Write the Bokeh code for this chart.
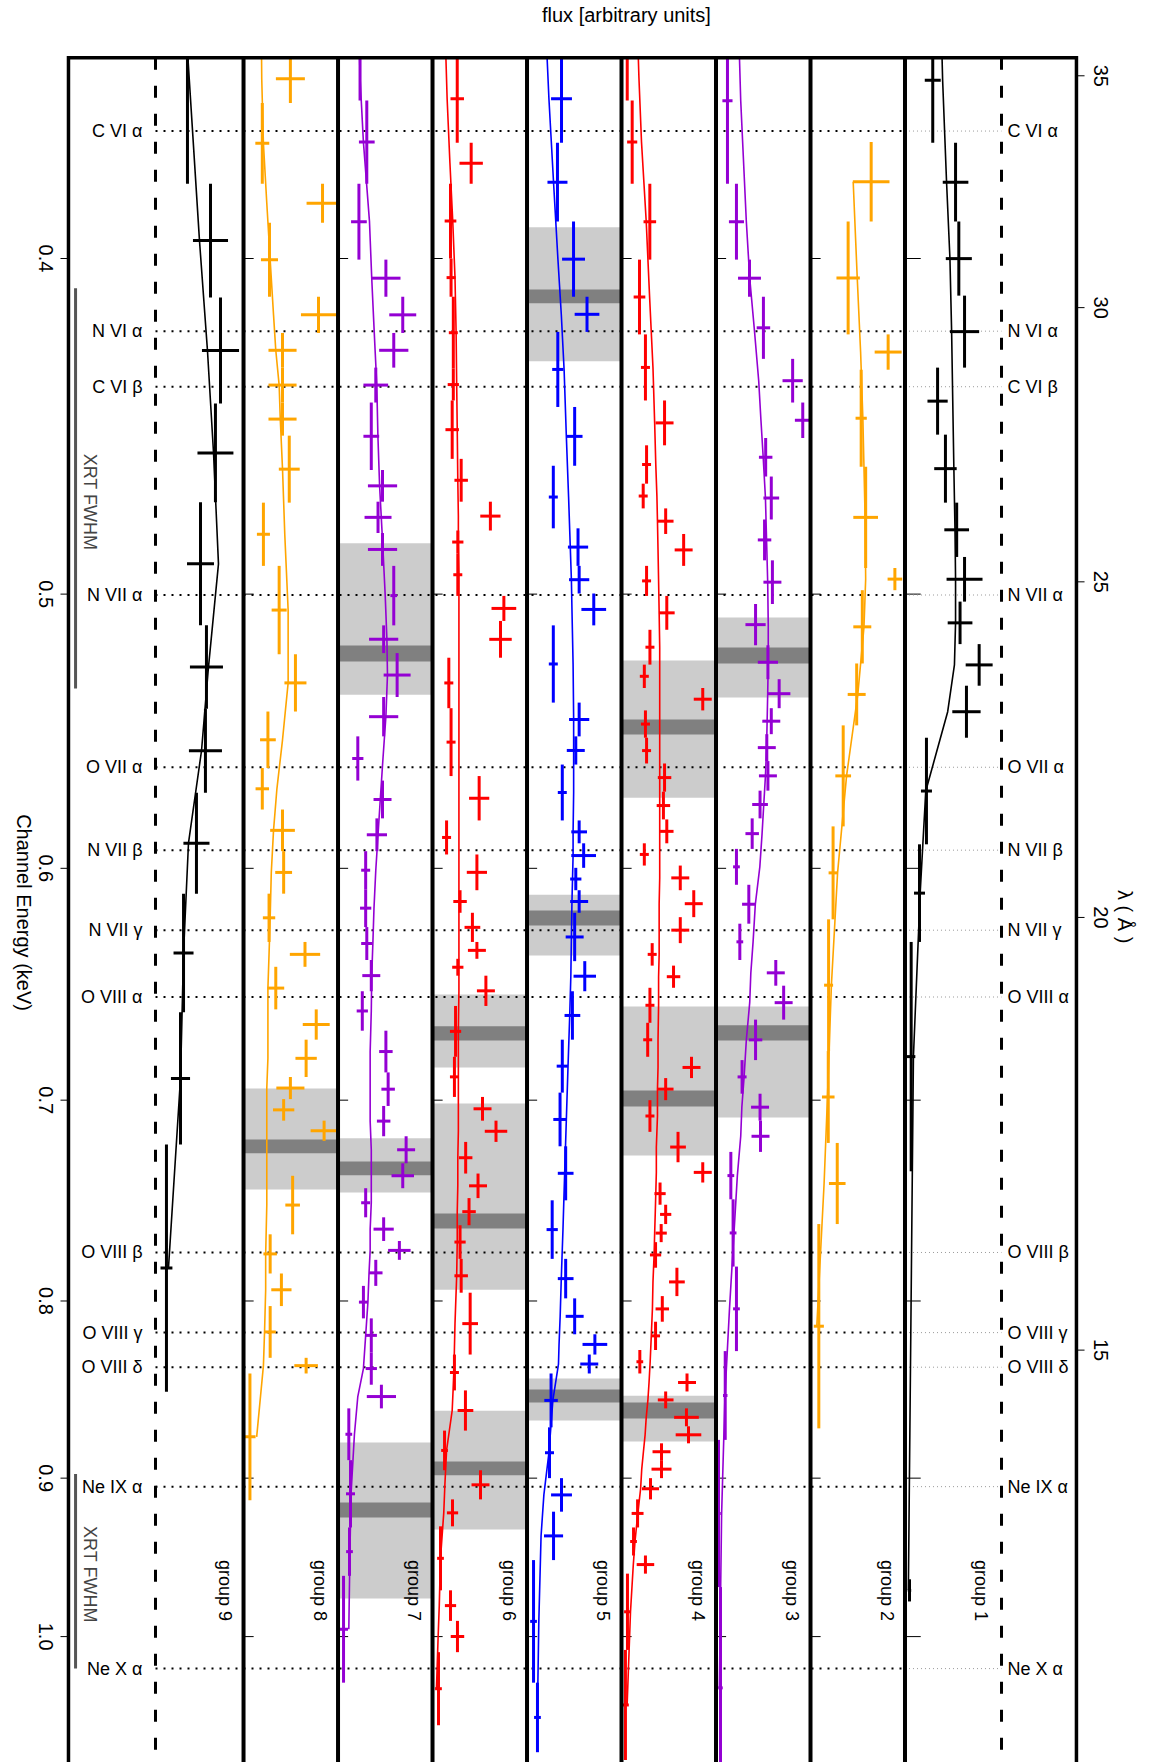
import math
import numpy as np
from bokeh.plotting import figure
from bokeh.models import Range1d
from bokeh.core.properties import value
from bokeh.embed import file_html
from bokeh.resources import INLINE

FONT = "Liberation Sans"
HC = 12.3984  # keV * Angstrom
nan = float("nan")  # marks an energy range without a plotted bin

# ---------------- data ----------------
energy_ticks = [0.4, 0.5, 0.6, 0.7, 0.8, 0.9, 1.0]
energy_tick_labels = ["0.4", "0.5", "0.6", "0.7", "0.8", "0.9", "1.0"]
lambda_ticks = [15, 20, 25, 30, 35]

line_names = ["C VI α", "N VI α", "C VI β", "N VII α", "O VII α", "N VII β", "N VII γ",
              "O VIII α", "O VIII β", "O VIII γ", "O VIII δ", "Ne IX α", "Ne X α"]
line_energy = [0.3675, 0.4198, 0.4356, 0.5003, 0.5610, 0.5928, 0.6252,
               0.6536, 0.7746, 0.8170, 0.8360, 0.9051, 1.0215]

group_ids = [9, 8, 7, 6, 5, 4, 3, 2, 1]
group_colors = ["black", "orange", "#9400D3", "red", "blue", "red", "#9400D3", "orange", "black"]

# flux in arbitrary units, each panel spans 0..84.1
g9_edges = [0.300, 0.3806, 0.4105, 0.4405, 0.4704, 0.5105, 0.5396, 0.5706, 0.6102, 0.6603, 0.7209, 0.8497]
g9_flux = [34.2, 54.7, 63.6, 59.1, 45.8, 51.1, 50.2, 42.2, 30.7, 28.0, 15.5]
g9_err = [0, 15.6, 16.5, 16.0, 12.0, 14.7, 14.7, 11.6, 8.9, 8.5, 5.3]
g9_model = [31.6, 44.9, 52.0, 57.4, 61.8, 52.9, 46.7, 35.1, 30.7, 28.0, 17.3]

g8_edges = [0.3350, 0.3493, 0.3607, 0.3806, 0.3906, 0.4103, 0.4203, 0.4301, 0.4402, 0.4500, 0.4705,
            0.4907, 0.5204, 0.5406, 0.5613, 0.5770, 0.5932, 0.6102, 0.6301, 0.6406, 0.6590,
            0.6724, 0.6893, 0.6995, 0.7096, 0.7192, 0.7361, 0.7653, 0.7855, 0.8027, 0.8308,
            0.8395, 0.9133]
g8_flux = [15.8, 41.7, 16.7, 70.3, 23.1, 66.7, 34.7, 34.7, 34.7, 40.7, 17.7, 31.7, 46.2, 21.7, 16.7,
           34.7, 35.7, 22.7, 54.7, 28.7, 64.7, 55.7, 41.7, 35.7, 71.7, nan, 43.7, 23.7, 33.7, 23.7,
           55.7, 5.7]
g8_err = [0, 12.9, 6.2, 14.2, 7.6, 15.6, 12.5, 12.5, 12.5, 9.3, 5.8, 6.7, 9.8, 7, 6, 11, 7.5, 5.5,
          13.5, 7.5, 12, 9.5, 12.5, 9.5, 12, nan, 6.5, 6, 9, 5, 10.5, 5]
g8_model = [15.8, 16.2, 17.7, 20.7, 23.7, 26.7, 28.7, 31.7, 32.7, 34.7, 36.7, 39.7, 39.7, 34.7, 29.7,
            26.7, 24.7, 23.7, 22.7, 21.7, 21.7, 21.7, 20.7, 20.7, 20.7, nan, 20.7, 19.7, 19.7, 18.7,
            17.7, 11.7]

g7_edges = [0.3350, 0.3493, 0.3601, 0.3806, 0.4003, 0.4103, 0.4203, 0.4301, 0.4402, 0.4604, 0.4702,
            0.4801, 0.4907, 0.5105, 0.5200, 0.5354, 0.5496, 0.5660, 0.5804, 0.5932, 0.6084,
            0.6239, 0.6377, 0.6511, 0.6684, 0.6872, 0.7027, 0.7170, 0.7300, 0.7422, 0.7567,
            0.7687, 0.7784, 0.7920, 0.8093, 0.8278, 0.8458, 0.8592, 0.8893, 0.9300, 0.9604, 1.0311]
g7_flux = [18.5, 19.6, 25.6, 18.6, 42.6, 57.6, 49.6, 33.6, 29.6, 39.6, 35.6, 39.6, 49.6, 40.6, 52.6,
           40.6, 17.6, 39.6, 34.6, 24.6, 24.6, 25.6, 29.6, 21.6, 42.6, 44.6, 40.6, 60.6, 57.6,
           24.6, 40.6, 54.6, 33.6, 22.6, 29.6, 29.6, 38.6, 9.6, 11.1, 10.2, 4.9]
g7_err = [0, 0, 7, 7, 13, 12, 13, 11, 7, 13, 12, 13, 3, 13, 12, 13, 5, 8, 9, 4, 5, 5, 8, 5, 6, 6, 6,
          8, 10, 4, 9, 10, 6, 4, 5, 5, 13, 3, 4, 3, 4]
g7_model = [18.5, 19.6, 22.6, 28, 30, 31.5, 33, 34.5, 35.5, 37, 38.5, 40, 42, 43.5, 44, 42.6, 40,
            37.6, 35.6, 33.6, 32, 31, 30, 29.6, 28.6, 28.6, 28.6, 29.6, 29.6, 29.6, 28.6, 28.6,
            27.6, 26.6, 24.6, 22.6, 17.6, 14.6, 11.6, 10.6, 9.6]

g6_edges = [0.3350, 0.3493, 0.3704, 0.3806, 0.4000, 0.4103, 0.4304, 0.4396, 0.4570, 0.4702, 0.4793,
            0.4867, 0.5006, 0.5090, 0.5216, 0.5394, 0.5643, 0.5812, 0.5945, 0.6088, 0.6180,
            0.6301, 0.6372, 0.6444, 0.6575, 0.6801, 0.6985, 0.7096, 0.7197, 0.7350, 0.7471,
            0.7607, 0.7779, 0.7956, 0.8290, 0.8490, 0.8720, 0.8953, 0.9128, 0.9293, 0.9697,
            0.9896, 1.0104, 1.0607]
g6_flux = [11, 22, 34.4, 16, 16.5, 18.5, 18.5, 17.5, 25.5, 51.5, 22.5, 22.5, 63.5, 60.5, 14.5, 16.5,
           41.5, 12.5, 39.5, 24.5, 35.5, 39.5, 22.5, 47.5, 20.5, 19.5, 44.5, 56.5, 29.5, 40.5,
           32.5, 24.5, 25.5, 33.5, 19.5, 29.3, 10.7, 42.7, 17.8, 7.1, 16, 22.2, 5.3]
g6_err = [0, 6, 10.4, 5.2, 4, 4, 5, 6, 6, 9, 5, 4, 11, 10, 4, 4, 9, 4, 9, 6, 7, 8, 5, 8, 5, 4, 8,
          10, 6, 8, 6, 5, 6, 7, 4, 7, 3, 8, 5, 3, 5, 6, 3]
g6_model = [11, 13, 15.5, 18, 20, 21, 21.5, 22, 22.5, 23, 23, 23.5, 23.5, 23.5, 23.5, 23.5, 23.5,
            23.5, 23.5, 23.5, 23.5, 23.5, 23.5, 23.5, 23, 23, 23, 23, 22.5, 22.5, 22, 22, 21.5,
            20, 19, 17.5, 12.5, 11, 10, 7.1, 6, 5, 3.5]

g5_edges = [0.3350, 0.3493, 0.3704, 0.3903, 0.4103, 0.4200, 0.4415, 0.4591, 0.4786, 0.4907, 0.4998,
            0.5105, 0.5374, 0.5496, 0.5600, 0.5812, 0.5901, 0.5998, 0.6088, 0.6180, 0.6382,
            0.6511, 0.6724, 0.6965, 0.7218, 0.7482, 0.7779, 0.7986, 0.8179, 0.8290, 0.8395,
            0.8701, 0.9000, 0.9203, 0.9504, 1.0311, 1.0799]
g5_flux = [16.5, 30.7, 27.1, 41.4, 53.4, 27.4, 42.4, 23.4, 45.4, 46.4, 59.4, 23.4, 46.4, 43.4, 31.4,
           46.4, 50.4, 43.4, 46.4, 42.4, 51.4, 40.4, 31.4, 29.4, 34.4, 22.4, 34.4, 42.4, 60.4,
           55.4, 21.4, 20, 30.7, 23.6, 5.8, 9.3]
g5_err = [0, 9.3, 8.9, 10.2, 11, 5, 7, 4, 9, 9, 11, 4, 9, 8, 4, 7, 11, 5, 8, 8, 10, 7, 5, 6, 7, 5,
          7, 8, 11, 8, 6, 4, 9.3, 8.5, 3, 3]
g5_model = [16.5, 19.5, 23.6, 27.5, 30.5, 33, 35, 37, 38.5, 39.5, 40, 41, 41.5, 41.5, 41.5, 41, 41,
            40.5, 40, 39.5, 39, 38, 36.5, 35, 33.5, 32, 30.5, 29.5, 28.5, 28, 23, 19.5, 15, 12.5,
            10.5, 9.2]

g4_edges = [0.3350, 0.3493, 0.3601, 0.3806, 0.4003, 0.4207, 0.4396, 0.4529, 0.4646, 0.4723, 0.4804,
            0.4907, 0.5006, 0.5120, 0.5240, 0.5322, 0.5402, 0.5501, 0.5596, 0.5702, 0.5808,
            0.5901, 0.5989, 0.6088, 0.6198, 0.6306, 0.6401, 0.6496, 0.6649, 0.6801, 0.6898,
            0.7000, 0.7149, 0.7295, 0.7394, 0.7504, 0.7601, 0.7693, 0.7825, 0.7974, 0.8111,
            0.8265, 0.8395, 0.8496, 0.8592, 0.8695, 0.8794, 0.8893, 0.9000, 0.9128, 0.9300,
            0.9475, 0.9590, 1.0089, 1.0855]
g4_flux = [14, 5.1, 9.5, 25.2, 16, 21.3, 38.3, 22.3, 19.3, 39.3, 55.3, 22.3, 40.3, 25.3, 20.3, 72.3,
           21.3, 22.3, 38.3, 37.3, 40.3, 20.3, 52.3, 64.3, 52.3, 27.3, 46.3, 25.3, 23.3, 62.3,
           39.3, 25.3, 50.3, 72.3, 34.3, 39.3, 35.3, 30.3, 49.3, 36.3, 30.3, 16.3, 58.3, 39.3,
           57.8, 59.6, 35.6, 35.6, 25.8, 14.3, 10.7, 21.3, 5.3, 3.5]
g4_err = [0, 0, 4.5, 5.6, 5.2, 4, 8, 4, 4, 7, 8, 4, 7, 4, 4, 8, 4, 4, 6, 6, 6, 4, 8, 8, 8, 4, 6, 4,
          4, 8, 7, 4, 7, 8, 5, 5, 5, 5, 7, 6, 4, 3, 8, 7, 11, 11.4, 8, 8.9, 7.6, 5.3, 3, 7.8, 3, 3]
g4_model = [14, 15.5, 17.8, 22, 25, 28, 29.5, 30.5, 31.5, 32, 32.5, 33, 33.5, 34, 34, 34, 34, 34, 34,
            34, 34, 34, 34, 33.5, 33.5, 33.5, 33, 33, 32.5, 32.5, 32, 32, 31, 31, 30.5, 30, 29.5,
            29, 28, 27.5, 26.5, 25.5, 24.5, 23.5, 22, 21, 19.5, 18, 17, 14.5, 12, 10.5, 8, 5]

g3_edges = [0.3200, 0.3408, 0.3806, 0.4003, 0.4103, 0.4276, 0.4402, 0.4507, 0.4624, 0.4758, 0.4889,
            0.5033, 0.5173, 0.5291, 0.5394, 0.5488, 0.5587, 0.5698, 0.5804, 0.5923, 0.6066,
            0.6225, 0.6377, 0.6487, 0.6635, 0.6816, 0.6970, 0.7096, 0.7245, 0.7477, 0.7819,
            0.8271, 0.8774, 0.9676, 1.1064]
g3_flux = [18.6, 10.2, 18.2, 29.8, 42.2, 68.2, 77.2, 44.2, 49.2, 43.2, 50.2, 35.2, 46.2, 56.2, 49.2,
           45.2, 46.2, 39.2, 32.2, 18.2, 29.2, 21.2, 53.2, 60.2, 35.2, 23.2, 39.2, 39.6, 13.2,
           15.2, 18.2, 8.2, 2.2, 4]
g3_err = [0, 4.5, 6.7, 10.2, 6, 9, 7, 6, 7, 6, 8, 9, 9, 10, 8, 8, 8, 7, 6, 3, 6, 3, 8, 8, 6, 4, 8,
          8, 3, 3, 3, 2, 2, 2]
g3_model = [18.6, 22, 27, 30, 34, 38, 40, 42, 44, 45, 46, 46.5, 46.5, 46, 45.5, 45, 44, 42.5, 41, 39,
            35, 33, 31, 30, 27, 25, 23, 22, 19, 16, 12, 8, 5, 3]

g2_edges = [0.3702, 0.3903, 0.4207, 0.4307, 0.4594, 0.4914, 0.4987, 0.5236, 0.5456, 0.5835, 0.6207,
            0.6775, 0.7202, 0.7601, 0.8707]
g2_flux = [54, 33.5, 69.1, 45.1, 49.1, 75.1, 46.1, 41.1, 29.1, 20.1, 16.1, 15.8, 23.8, 7.4]
g2_err = [16.3, 10.4, 12, 5, 11, 6.5, 8, 8, 7, 4, 4, 5.6, 7.4, 4.5]
g2_model = [38, 41.6, 44.6, 46.6, 48.6, 49.1, 47.6, 42.1, 32.1, 24.1, 18.6, 15.1, 12.1, 5.6]

g1_edges = [0.3200, 0.3408, 0.3704, 0.3903, 0.4100, 0.4301, 0.4497, 0.4705, 0.4878, 0.5025, 0.5169,
            0.5314, 0.5501, 0.5905, 0.6301, 0.7339, 0.9626, 0.9769]
g1_flux = [31, 24.7, 45, 47.9, 53, 29, 36, 46, 53, 49, 66, 54.7, 19.1, 12.9, 5.5, nan, 4]
g1_err = [0, 7.1, 11.4, 11.6, 13, 9, 10, 11, 16, 11, 12, 12.6, 4.9, 4.9, 3.7, nan, 1.5]
g1_model = [31, 33.5, 37, 40, 41.5, 42.5, 43.5, 44.5, 45, 45, 44, 38, 18.5, 13.5, 7.5, nan, 3]

# shaded line-search regions (group, range, core)
box_group = [8, 7, 7, 7, 6, 6, 6, 5, 5, 5, 4, 4, 4, 3, 3]
box_lo = [0.6946, 0.4834, 0.7180, 0.8789, 0.6525, 0.7016, 0.8605, 0.3918, 0.6106, 0.8423,
          0.5226, 0.6577, 0.8520, 0.5078, 0.6577]
box_hi = [0.7428, 0.5346, 0.7443, 0.9750, 0.6850, 0.7940, 0.9312, 0.4283, 0.6358, 0.8662,
          0.5725, 0.7262, 0.8783, 0.5356, 0.7081]
core_lo = [0.7185, 0.5174, 0.7291, 0.9147, 0.6664, 0.7548, 0.8901, 0.4083, 0.6171, 0.8485,
           0.5435, 0.6955, 0.8559, 0.5181, 0.6660]
core_hi = [0.7252, 0.5229, 0.7358, 0.9238, 0.6728, 0.7623, 0.8983, 0.4121, 0.6232, 0.8559,
           0.5489, 0.7030, 0.8650, 0.5236, 0.6728]

# XRT FWHM markers
xrt_lo = [0.4080, 0.8975]
xrt_hi = [0.5324, 1.0214]
xrt_mid = [0.4703, 0.9595]

groups = {
    9: (g9_edges, g9_flux, g9_err, g9_model),
    8: (g8_edges, g8_flux, g8_err, g8_model),
    7: (g7_edges, g7_flux, g7_err, g7_model),
    6: (g6_edges, g6_flux, g6_err, g6_model),
    5: (g5_edges, g5_flux, g5_err, g5_model),
    4: (g4_edges, g4_flux, g4_err, g4_model),
    3: (g3_edges, g3_flux, g3_err, g3_model),
    2: (g2_edges, g2_flux, g2_err, g2_model),
    1: (g1_edges, g1_flux, g1_err, g1_model),
}

# ---------------- layout (data units) ----------------
W = 84.1              # panel width in flux units
X_LEFT_DASH = 5.75
X_RIGHT_DASH = 758.7
X_FRAME_L = -71.7
X_FRAME_R = 825.4
E_FRAME_TOP = 0.35
E_VIEW_TOP = 0.336945
E_VIEW_BOT = 1.08731

p = figure(width=1155, height=1762,
           x_range=Range1d(-132.2, 895.75), y_range=Range1d(E_VIEW_BOT, E_VIEW_TOP),
           y_axis_type="log", x_axis_location=None, y_axis_location=None,
           output_backend="svg", toolbar_location=None, title_location=None,
           min_border=0)
p.outline_line_color = None
p.xgrid.visible = False
p.ygrid.visible = False
p.background_fill_color = "white"
p.border_fill_color = "white"


def txt(x, y, text, size, align="center", angle=0.0, color="black"):
    p.text(x=x, y=y, text=text, angle=angle, text_align=align, text_baseline="middle",
           text_font=value(FONT), text_font_size=size, text_color=color)


# outer ticks + tick labels (energy, left)
nt = len(energy_ticks)
p.segment(x0=[-78.8] * nt, x1=[X_FRAME_L] * nt, y0=energy_ticks, y1=energy_ticks,
          line_color="black", line_width=1)
txt([-92.1] * nt, energy_ticks, energy_tick_labels, "20px", angle=-math.pi / 2)

# wavelength axis (right)
lam_e = [HC / l for l in lambda_ticks]
nl = len(lambda_ticks)
p.segment(x0=[X_FRAME_R] * nl, x1=[832.6] * nl, y0=lam_e, y1=lam_e,
          line_color="black", line_width=1)
txt([846.8] * nl, lam_e, [str(l) for l in lambda_ticks], "20px", angle=-math.pi / 2)

# inner ticks on panel boundaries
tx0, tx1, ty = [], [], []
for k in range(1, 9):
    for t in energy_ticks:
        tx0.append(k * W)
        tx1.append(k * W + (14 if k == 8 else 9))
        ty.append(t)
p.segment(x0=tx0, y0=ty, x1=tx1, y1=ty, line_color="black", line_width=1)

# shaded boxes
bl = [(9 - g) * W for g in box_group]
br = [(10 - g) * W for g in box_group]
p.quad(left=bl, right=br, top=box_lo, bottom=box_hi, fill_color="#cccccc", line_color=None)
p.quad(left=bl, right=br, top=core_lo, bottom=core_hi, fill_color="#808080", line_color=None)

# line markers
n = len(line_energy)
p.segment(x0=[X_LEFT_DASH] * n, x1=[8 * W] * n, y0=line_energy, y1=line_energy,
          line_color="black", line_width=2, line_dash="2 6")
p.segment(x0=[8 * W] * n, x1=[X_RIGHT_DASH] * n, y0=line_energy, y1=line_energy,
          line_color="#9a9a9a", line_width=1, line_dash="1 3")
txt([-5.8] * n, line_energy, line_names, "18px", align="right")
txt([764.0] * n, line_energy, line_names, "18px", align="left")

# dashed boundaries
p.segment(x0=[X_LEFT_DASH, X_RIGHT_DASH], x1=[X_LEFT_DASH, X_RIGHT_DASH],
          y0=[E_FRAME_TOP] * 2, y1=[E_VIEW_BOT] * 2,
          line_color="black", line_width=3, line_dash="12 16")

# XRT FWHM
p.segment(x0=[-65.4] * 2, x1=[-65.4] * 2, y0=xrt_lo, y1=xrt_hi, line_color="#555555", line_width=3)
txt([-52.8] * 2, xrt_mid, ["XRT FWHM"] * 2, "18px", angle=-math.pi / 2, color="#444444")

# spectra (clipped at the top of the plotting box)
ETOP = E_FRAME_TOP
for g, col in zip(group_ids, group_colors):
    edges, flux, err, model = groups[g]
    k = 9 - g
    e = np.array(edges, dtype=float)
    lo, hi = e[:-1], e[1:]
    ec = np.sqrt(lo * hi)
    f = np.array(flux, dtype=float)
    er = np.array(err, dtype=float)
    m = np.array(model, dtype=float)

    okv = (~np.isnan(f)) & (hi > ETOP)
    xv = k * W + f[okv]
    p.segment(x0=xv, y0=np.maximum(lo[okv], ETOP), x1=xv, y1=hi[okv],
              line_color=col, line_width=3)
    okh = (~np.isnan(f)) & (ec >= ETOP) & (er > 0)
    xh = k * W + f[okh]
    p.segment(x0=xh - er[okh], y0=ec[okh], x1=xh + er[okh], y1=ec[okh],
              line_color=col, line_width=3)

    okm = ~np.isnan(m)
    mx = k * W + m[okm]
    my = ec[okm]
    j = int(np.argmax(my >= ETOP))
    if j > 0:
        la, lb = np.log(my[j - 1]), np.log(my[j])
        t = (np.log(ETOP) - la) / (lb - la)
        xc = mx[j - 1] + t * (mx[j] - mx[j - 1])
        mx = np.concatenate([[xc], mx[j:]])
        my = np.concatenate([[ETOP], my[j:]])
    p.line(mx, my, line_color=col, line_width=1.6)

# panel separators and frame
sep = [k * W for k in range(1, 9)]
p.segment(x0=sep, x1=sep, y0=[E_FRAME_TOP] * 8, y1=[E_VIEW_BOT] * 8,
          line_color="black", line_width=4)
p.line(x=[X_FRAME_L, X_FRAME_L, X_FRAME_R, X_FRAME_R],
       y=[E_VIEW_BOT, E_FRAME_TOP, E_FRAME_TOP, E_VIEW_BOT],
       line_color="black", line_width=3.5, line_join="miter")

# group labels
txt([(10 - g) * W - 16.3 for g in group_ids], [0.9698] * 9,
    ["group %d" % g for g in group_ids], "18px", angle=-math.pi / 2)

# axis titles
txt([424.9], [0.3403], ["flux [arbitrary units]"], "20px")
txt([-111.3], [0.6179], ["Channel Energy (keV)"], "20px", angle=-math.pi / 2)
txt([869.0], [0.6196], ["λ ( Å )"], "20px", angle=-math.pi / 2)

open("out.html", "w").write(file_html(p, INLINE))
